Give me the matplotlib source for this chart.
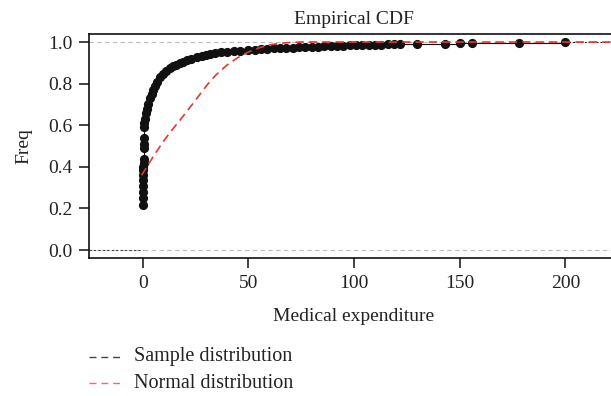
import matplotlib

matplotlib.use("Agg")
import matplotlib.pyplot as plt
from matplotlib.lines import Line2D

# empirical CDF points (medical expenditure, cumulative frequency)
ecdf_x = [0, 0.05, 0.1, 0.15, 0.2, 0.25, 0.3, 0.35, 0.4, 0.45, 0.5, 0.55,
          0.6, 0.7, 0.8, 1.1, 1.5, 2.0, 2.7, 3.5, 4.2, 5.0, 6.0, 7.0, 8.2,
          9.5, 11, 12.9, 14.5, 16, 17.5, 19.2, 21, 23, 25.6, 28, 30, 31.9,
          34, 37, 40, 43, 46, 50, 53, 56, 59, 62, 65, 68, 71, 74, 77, 80,
          83, 86, 89, 92, 95, 98, 101, 104, 107, 110, 113, 116, 119, 122,
          130, 143, 150, 156, 178, 200]
ecdf_y = [0.216, 0.25, 0.28, 0.31, 0.337, 0.36, 0.385, 0.40, 0.42, 0.44,
          0.49, 0.51, 0.54, 0.59, 0.61, 0.63, 0.66, 0.68, 0.70, 0.73, 0.75,
          0.77, 0.79, 0.81, 0.833, 0.848, 0.86, 0.873, 0.884, 0.892, 0.899,
          0.905, 0.912, 0.919, 0.926, 0.932, 0.937, 0.942, 0.946, 0.950,
          0.953, 0.956, 0.959, 0.962, 0.964, 0.966, 0.967, 0.969, 0.970,
          0.972, 0.973, 0.975, 0.976, 0.977, 0.978, 0.980, 0.981, 0.982,
          0.983, 0.984, 0.985, 0.986, 0.987, 0.987, 0.988, 0.989, 0.989,
          0.990, 0.991, 0.992, 0.993, 0.994, 0.996, 1.0]

# fitted "normal" curve as drawn
norm_x = [-0.5, 2, 5, 10, 13.7, 17.7, 20, 25, 28.7, 31, 35, 40, 45, 50,
          55, 60, 65, 70, 75, 100, 150, 225]
norm_y = [0.36, 0.40, 0.45, 0.525, 0.575, 0.625, 0.655, 0.72, 0.77, 0.80,
          0.845, 0.89, 0.925, 0.952, 0.972, 0.986, 0.994, 0.998, 1.0, 1.0,
          1.0, 1.0]

XLIM = (-25.4, 225.4)
BLACK = "#111111"
RED = "#dc3a32"

plt.rcParams.update({
    "font.family": ["Liberation Serif", "DejaVu Serif"],
    "font.size": 14,
    "text.color": "#222222",
    "axes.labelcolor": "#222222",
    "xtick.color": "#222222",
    "ytick.color": "#222222",
})

fig = plt.figure(figsize=(6.11, 3.96), dpi=100)
ax = fig.add_axes([89 / 611, 1 - 258 / 396, (619 - 89) / 611,
                   (258 - 33.5) / 396])

for yv in (0, 1):
    ax.axhline(yv, color="#bbbbbb", lw=0.8, ls=(0, (4, 3)), zorder=1)

# tails of the ECDF
ax.plot([XLIM[0], ecdf_x[0]], [0, 0], color="#444444", lw=0.8,
        ls=(0, (2, 2)), zorder=2)
ax.plot([ecdf_x[-1], XLIM[1]], [1, 1], color=BLACK, lw=0.8,
        ls=(0, (1.5, 2)), zorder=2)
ax.plot(ecdf_x, ecdf_y, drawstyle="steps-post", color=BLACK, lw=0.8,
        zorder=2)
ax.plot(ecdf_x, ecdf_y, "o", color=BLACK, ms=5.6, zorder=3)
ax.plot(norm_x, norm_y, color=RED, lw=1.2, ls=(0, (5, 3)), zorder=4)

ax.set_xlim(*XLIM)
ax.set_ylim(-0.038, 1.041)
ax.set_xticks([0, 50, 100, 150, 200])
ax.set_yticks([0.0, 0.2, 0.4, 0.6, 0.8, 1.0])
ax.set_yticklabels(["0.0", "0.2", "0.4", "0.6", "0.8", "1.0"])
ax.tick_params(length=7, width=1.2, pad=5)
for s in ax.spines.values():
    s.set_linewidth(1.2)
    s.set_color(BLACK)

ax.set_title("Empirical CDF", fontsize=14, pad=7)
ax.set_xlabel("Medical expenditure", labelpad=12)
ax.set_ylabel("Freq", labelpad=11)

# legend below the chart
for ypx, col, lab in ((357, "#444444", "Sample distribution"),
                      (383, "#ee6a80", "Normal distribution")):
    yf = 1 - ypx / 396
    fig.add_artist(Line2D([89 / 611, 123 / 611], [yf, yf],
                          transform=fig.transFigure, color=col, lw=1.0,
                          ls=(0, (5, 3.5))))
    fig.text(134 / 611, yf, lab, va="center", ha="left", fontsize=14.5)

fig.savefig("out.png", dpi=100)
